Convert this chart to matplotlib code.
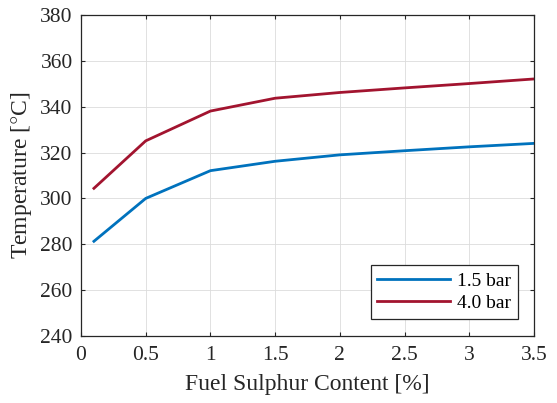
import matplotlib.pyplot as plt

# fuel sulphur content [%] and exhaust temperature [°C]
sulphur = [0.1, 0.5, 1.0, 1.5, 2.0, 2.5, 3.0, 3.5]
temp_15bar = [281.3, 300.0, 312.1, 316.2, 319.0, 320.8, 322.5, 324.0]
temp_40bar = [304.4, 325.1, 338.1, 343.7, 346.2, 348.2, 350.1, 352.1]

xticks = [0, 0.5, 1, 1.5, 2, 2.5, 3, 3.5]
xticklabels = ["0", "0.5", "1", "1.5", "2", "2.5", "3", "3.5"]
yticks = [240, 260, 280, 300, 320, 340, 360, 380]

plt.rcParams["font.family"] = ["Liberation Serif", "DejaVu Serif"]
plt.rcParams["mathtext.fontset"] = "stix"

fig = plt.figure(figsize=(5.57, 4.03), dpi=100)
ax = fig.add_axes([0.1454, 0.1663, 0.8133, 0.7965])

ax.plot(sulphur, temp_15bar, color="#0072BD", linewidth=2.0, label="1.5 bar")
ax.plot(sulphur, temp_40bar, color="#A2142F", linewidth=2.0, label="4.0 bar")

ax.set_xlim(0, 3.5)
ax.set_ylim(240, 380)
ax.set_xticks(xticks)
ax.set_yticks(yticks)
ax.set_xticklabels(xticklabels)
ax.tick_params(direction="in", top=True, right=True, labelsize=15.5,
               length=3.2, width=0.8, colors="#262626", labelcolor="#262626")
ax.tick_params(axis="x", pad=7)
ax.tick_params(axis="y", pad=6)
for s in ax.spines.values():
    s.set_color("#262626")
    s.set_linewidth(0.9)
ax.grid(True, color="#dcdcdc", linewidth=0.6)
ax.set_axisbelow(True)

ax.set_xlabel("Fuel Sulphur Content [%]", fontsize=17, color="#262626")
ax.set_ylabel("Temperature [$\\degree$C]", fontsize=17, color="#262626")
ax.xaxis.set_label_coords(0.5, -0.118)
ax.yaxis.set_label_coords(-0.104, 0.5)

leg = ax.legend(loc="lower right", bbox_to_anchor=(0.9647, 0.053), fontsize=14,
                fancybox=False, framealpha=1, edgecolor="#262626",
                handlelength=3.75, borderpad=0.35, labelspacing=0.25,
                handletextpad=0.35, borderaxespad=0)
leg.get_frame().set_linewidth(0.9)

fig.savefig("out.png", dpi=100)
